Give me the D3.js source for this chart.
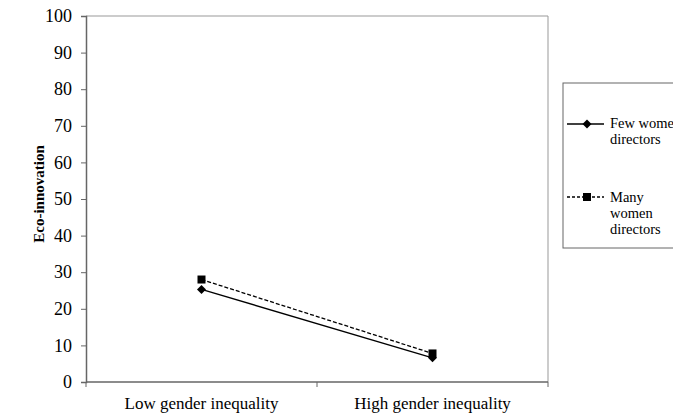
<!DOCTYPE html>
<html>
<head>
<meta charset="utf-8">
<script src="https://cdn.jsdelivr.net/npm/d3@7"></script>
<style>
  body { margin: 0; background: #fff; }
  svg { display: block; }
</style>
</head>
<body>
<svg id="chart" width="673" height="414"></svg>
<script>
// Data
const categories = ["Low gender inequality", "High gender inequality"];
const seriesNames = ["Few women directors", "Many women directors"];
const fewWomen = [25.3, 6.6];
const manyWomen = [28.0, 7.8];
const yTicks = [0, 10, 20, 30, 40, 50, 60, 70, 80, 90, 100];

const FONT = '"Liberation Serif"';

const svg = d3.select("#chart");
const m = { left: 86, top: 16, right: 548, bottom: 382 };

const x = d3.scaleBand().domain(categories).range([m.left, m.right]);
const y = d3.scaleLinear().domain([0, 100]).range([m.bottom, m.top]);

// Plot frame (top and right)
svg.append("path")
  .attr("d", `M${m.left},${m.top}H${m.right}V${m.bottom}`)
  .attr("fill", "none").attr("stroke", "#999").attr("stroke-width", 1);

// Y axis
const yAxis = svg.append("g").attr("transform", `translate(${m.left},0)`)
  .call(d3.axisLeft(y).tickValues(yTicks).tickSize(5).tickPadding(9));
yAxis.select(".domain").attr("stroke", "#666").attr("stroke-width", 1.5);
yAxis.selectAll(".tick line").attr("stroke", "#666");
yAxis.selectAll("text").attr("fill", "#000")
  .style("font-family", FONT).style("font-size", "18px");

// X axis: ticks at category boundaries
const xAxisG = svg.append("g").attr("transform", `translate(0,${m.bottom})`);
xAxisG.append("line").attr("x1", m.left).attr("x2", m.right)
  .attr("stroke", "#666").attr("stroke-width", 1.5);
const boundaries = categories.map(c => x(c)).concat([x(categories[categories.length - 1]) + x.bandwidth()]);
xAxisG.selectAll("line.tk").data(boundaries).join("line").attr("class", "tk")
  .attr("x1", d => d).attr("x2", d => d).attr("y1", 0).attr("y2", 5)
  .attr("stroke", "#666");
xAxisG.selectAll("text").data(categories).join("text")
  .attr("x", d => x(d) + x.bandwidth() / 2).attr("y", 27)
  .attr("text-anchor", "middle")
  .style("font-family", FONT).style("font-size", "17px").text(d => d);

// Y title
svg.append("text")
  .attr("transform", `translate(44,${(m.top + m.bottom) / 2 - 5}) rotate(-90)`)
  .attr("text-anchor", "middle")
  .style("font-family", FONT).style("font-size", "15px").style("font-weight", "bold")
  .text("Eco-innovation");

const cx = c => x(c) + x.bandwidth() / 2;
const line = d3.line().x((d, i) => cx(categories[i])).y(d => y(d));

// Many women directors (dashed, squares)
svg.append("path").datum(manyWomen).attr("d", line)
  .attr("fill", "none").attr("stroke", "#000").attr("stroke-width", 1.3)
  .attr("stroke-dasharray", "4,2");
svg.selectAll("rect.many").data(manyWomen).join("rect").attr("class", "many")
  .attr("x", (d, i) => cx(categories[i]) - 4).attr("y", d => y(d) - 4)
  .attr("width", 8).attr("height", 8).attr("fill", "#000");

// Few women directors (solid, diamonds)
const diamond = d3.symbol().type(d3.symbolSquare).size(40);
svg.append("path").datum(fewWomen).attr("d", line)
  .attr("fill", "none").attr("stroke", "#000").attr("stroke-width", 1.3);
svg.selectAll("path.few").data(fewWomen).join("path").attr("class", "few")
  .attr("d", diamond)
  .attr("transform", (d, i) => `translate(${cx(categories[i])},${y(d)}) rotate(45)`)
  .attr("fill", "#000");

// Legend
const lg = svg.append("g");
lg.append("rect").attr("x", 563).attr("y", 83).attr("width", 130).attr("height", 165)
  .attr("fill", "#fff").attr("stroke", "#666").attr("stroke-width", 1);

lg.append("line").attr("x1", 567).attr("x2", 604).attr("y1", 124).attr("y2", 124)
  .attr("stroke", "#000").attr("stroke-width", 1.3);
lg.append("path").attr("d", diamond).attr("transform", "translate(587,124) rotate(45)").attr("fill", "#000");
const t1 = lg.append("text").attr("x", 610).attr("y", 128)
  .style("font-family", FONT).style("font-size", "14.5px");
t1.append("tspan").attr("x", 610).text("Few women");
t1.append("tspan").attr("x", 610).attr("dy", 16).text("directors");

lg.append("line").attr("x1", 567).attr("x2", 604).attr("y1", 197).attr("y2", 197)
  .attr("stroke", "#000").attr("stroke-width", 1.3).attr("stroke-dasharray", "3,2");
lg.append("rect").attr("x", 583).attr("y", 193).attr("width", 8).attr("height", 8).attr("fill", "#000");
const t2 = lg.append("text").attr("x", 610).attr("y", 202)
  .style("font-family", FONT).style("font-size", "14.5px");
t2.append("tspan").attr("x", 610).text("Many");
t2.append("tspan").attr("x", 610).attr("dy", 16).text("women");
t2.append("tspan").attr("x", 610).attr("dy", 16).text("directors");
</script>
</body>
</html>
